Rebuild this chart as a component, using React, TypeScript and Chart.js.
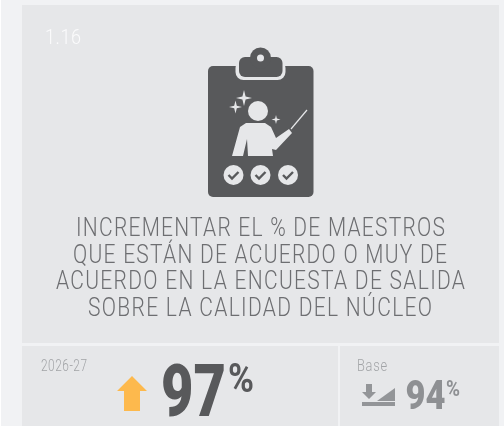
import { useEffect, useRef } from "react";
import { Chart, registerables } from "chart.js";

Chart.register(...registerables);

const kpiCode = "1.16";
const titleLines = [
  "INCREMENTAR EL % DE MAESTROS",
  "QUE ESTÁN DE ACUERDO O MUY DE",
  "ACUERDO EN LA ENCUESTA DE SALIDA",
  "SOBRE LA CALIDAD DEL NÚCLEO",
];
const periodLabels = ["2026-27", "Base"];
const percentValues = [97, 94];

const DARK = "#58595b";
const CARD = "#e6e7e9";

type Ctx = CanvasRenderingContext2D;

// Draw text squeezed to sx, then tracked out so that it ends up `width` wide.
function fit(ctx: Ctx, text: string, x: number, base: number, width: number, font: string, color: string, sx = 0) {
  ctx.save();
  ctx.font = font;
  ctx.fillStyle = color;
  ctx.textAlign = "left";
  ctx.textBaseline = "alphabetic";
  const m = ctx.measureText(text).width;
  ctx.translate(x, base);
  if (sx > 0) {
    const spacing = (width / sx - m) / (text.length - 1);
    (ctx as any).letterSpacing = spacing.toFixed(3) + "px";
    ctx.scale(sx, 1);
  } else {
    ctx.scale(width / m, 1);
  }
  ctx.fillText(text, 0, 0);
  ctx.restore();
}

function rect(ctx: Ctx, x: number, y: number, w: number, h: number, color: string) {
  ctx.fillStyle = color;
  ctx.fillRect(x, y, w, h);
}

function poly(ctx: Ctx, pts: number[][], color: string) {
  ctx.fillStyle = color;
  ctx.beginPath();
  pts.forEach((p, i) => (i ? ctx.lineTo(p[0], p[1]) : ctx.moveTo(p[0], p[1])));
  ctx.closePath();
  ctx.fill();
}

function circle(ctx: Ctx, x: number, y: number, r: number, color: string) {
  ctx.fillStyle = color;
  ctx.beginPath();
  ctx.arc(x, y, r, 0, Math.PI * 2);
  ctx.fill();
}

function sparkle(ctx: Ctx, x: number, y: number, r: number, color: string) {
  const k = r * 0.2;
  poly(ctx, [[x, y - r], [x + k, y - k], [x + r, y], [x + k, y + k], [x, y + r], [x - k, y + k], [x - r, y], [x - k, y - k]], color);
}

function drawClipboard(ctx: Ctx) {
  const light = CARD;
  ctx.fillStyle = DARK;
  ctx.beginPath();
  ctx.roundRect(208, 66, 105.5, 131, 5);
  ctx.fill();
  // clip
  ctx.fillStyle = light;
  ctx.beginPath();
  ctx.roundRect(235.5, 60, 50, 20, 8);
  ctx.fill();
  ctx.fillStyle = DARK;
  ctx.beginPath();
  ctx.roundRect(239, 57, 43.5, 20, 6);
  ctx.fill();
  circle(ctx, 260.5, 58, 10.5, DARK);
  circle(ctx, 260.5, 58, 3.5, light);
  // person
  sparkle(ctx, 244, 98, 8, light);
  sparkle(ctx, 235.5, 107, 6.5, light);
  sparkle(ctx, 276, 119.5, 4.5, light);
  circle(ctx, 258, 111, 10, light);
  poly(ctx, [[246, 123], [265, 123], [271, 127], [276, 138], [289, 129], [292, 133], [276, 150], [272, 149], [273, 156], [248, 156], [247, 139], [243, 156], [232, 156], [240, 127]], light);
  ctx.strokeStyle = light;
  ctx.lineWidth = 1.2;
  ctx.beginPath();
  ctx.moveTo(291, 129);
  ctx.lineTo(307, 110);
  ctx.stroke();
  // check badges
  [233.5, 260.5, 288].forEach((cx) => {
    circle(ctx, cx, 175, 10, light);
    ctx.strokeStyle = DARK;
    ctx.lineWidth = 2.4;
    ctx.beginPath();
    ctx.moveTo(cx - 5, 175);
    ctx.lineTo(cx - 1.5, 178.5);
    ctx.lineTo(cx + 5, 172);
    ctx.stroke();
  });
}

const cardPlugin = {
  id: "card",
  beforeDraw(chart: Chart) {
    const ctx = chart.ctx as Ctx;
    ctx.save();
    rect(ctx, 0, 0, 504, 426, "#f1f2f4");
    rect(ctx, 0, 0, 1, 426, "#ffffff");
    rect(ctx, 22, 5, 477, 338, CARD);
    rect(ctx, 22, 346, 316, 80, CARD);
    rect(ctx, 340, 346, 159, 80, CARD);

    fit(ctx, kpiCode, 45, 44, 36, "300 21px Roboto", "#fbfbfc", 0.86);
    drawClipboard(ctx);

    const xs = [76, 73, 56, 88];
    const ws = [369, 374, 409, 344];
    const bases = [236, 262.5, 289, 316];
    titleLines.forEach((t, i) => fit(ctx, t, xs[i], bases[i], ws[i], "300 25px Roboto", "#6d6e71", 0.84));

    fit(ctx, periodLabels[0], 41, 371, 46, "300 16px Roboto", "#a2a4a7", 0.74);
    fit(ctx, periodLabels[1], 357, 371, 30, "300 16px Roboto", "#a2a4a7", 0.8);

    // up arrow
    poly(ctx, [[132, 376], [147, 391], [140, 391], [140, 411], [124, 411], [124, 391], [117, 391]], "#fdb94d");
    fit(ctx, String(percentValues[0]), 161, 416, 65, "900 72px Roboto", DARK);
    fit(ctx, "%", 228, 392, 26, "700 40px Roboto", DARK);

    // baseline icon
    const grey = "#939598";
    poly(ctx, [[366, 384], [372, 384], [372, 392], [376, 392], [369, 399], [362, 392], [366, 392]], grey);
    poly(ctx, [[377, 401], [395, 388], [395, 401]], grey);
    rect(ctx, 362, 402, 33, 4, grey);
    fit(ctx, String(percentValues[1]), 405.5, 409, 40, "900 40px Roboto", "#8e9093");
    fit(ctx, "%", 446, 395.5, 14, "700 22px Roboto", "#8e9093");
    ctx.restore();
  },
};

export default function App() {
  const ref = useRef<HTMLCanvasElement>(null);
  useEffect(() => {
    document.body.style.margin = "0";
    const chart = new Chart(ref.current!, {
      type: "scatter",
      data: { datasets: [] },
      options: {
        animation: false,
        responsive: false,
        events: [],
        plugins: { legend: { display: false }, tooltip: { enabled: false } },
        scales: { x: { display: false }, y: { display: false } },
      },
      plugins: [cardPlugin],
    });
    return () => chart.destroy();
  }, []);
  return <canvas ref={ref} width={504} height={426} style={{ display: "block" }} />;
}
